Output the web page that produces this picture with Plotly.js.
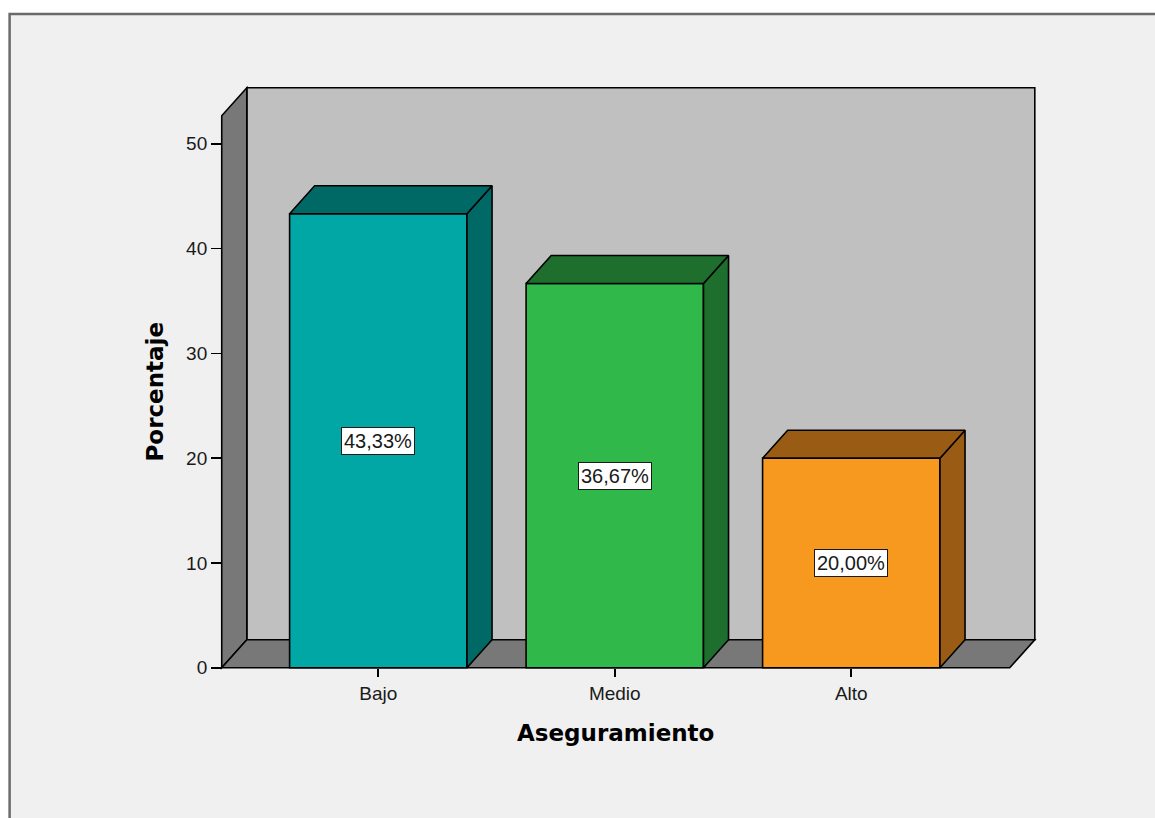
<!DOCTYPE html>
<html>
<head>
<meta charset="utf-8">
<script src="https://cdn.plot.ly/plotly-3.0.1.min.js"></script>
<style>
  html, body { margin: 0; padding: 0; background: #ffffff; }
  #chart { width: 1155px; height: 818px; }
</style>
</head>
<body>
<div id="chart"></div>
<script>
// Aseguramiento: percentage of respondents per level
const categories = ['Bajo', 'Medio', 'Alto'];
const percentages = [43.33, 36.67, 20.00];
const frontColors = ['#00a7a4', '#31b84b', '#f7991f'];
const shadeColors = ['#006865', '#1e6e2e', '#9a5c14'];
const yTicks = [0, 10, 20, 30, 40, 50];
const xTitle = 'Aseguramiento';
const yTitle = 'Porcentaje';

// 3D box geometry in axis units
const barWidth = 0.75;
const depthX = 0.106;     // horizontal depth offset (x units)
const depthY = 2.67;      // vertical depth offset (y units)
const wallLeft = -0.662;
const wallRight = 2.670;
const wallTop = 52.67;

const outline = { color: '#000000', width: 1.6 };
const xPos = categories.map((c, i) => i);

const traces = [];

// front faces of the bars
traces.push({
  type: 'bar',
  x: xPos,
  y: percentages,
  width: barWidth,
  marker: { color: frontColors, line: outline },
  hoverinfo: 'skip'
});

// top and side faces of each bar
percentages.forEach((v, i) => {
  const l = xPos[i] - barWidth / 2;
  const r = xPos[i] + barWidth / 2;
  traces.push({
    type: 'scatter', mode: 'lines', fill: 'toself',
    x: [r, r, r + depthX, r + depthX, r],
    y: [0, v, v + depthY, depthY, 0],
    fillcolor: shadeColors[i], line: outline, hoverinfo: 'skip'
  });
  traces.push({
    type: 'scatter', mode: 'lines', fill: 'toself',
    x: [l, r, r + depthX, l + depthX, l],
    y: [v, v, v + depthY, v + depthY, v],
    fillcolor: shadeColors[i], line: outline, hoverinfo: 'skip'
  });
});

// chart frame, back wall, side wall and floor
const shapes = [
  {
    type: 'rect', xref: 'paper', yref: 'paper', layer: 'below',
    x0: -0.252, x1: 1.3, y0: -0.4, y1: 1.1169,
    fillcolor: '#f0f0f0', line: { color: '#6a6a6a', width: 2.5 }
  },
  {
    type: 'rect', xref: 'x', yref: 'y', layer: 'below',
    x0: wallLeft + depthX, x1: wallRight + depthX, y0: depthY, y1: wallTop + depthY,
    fillcolor: '#c0c0c0', line: outline
  },
  {
    type: 'path', xref: 'x', yref: 'y', layer: 'below',
    path: `M ${wallLeft},0 L ${wallLeft},${wallTop} L ${wallLeft + depthX},${wallTop + depthY} L ${wallLeft + depthX},${depthY} Z`,
    fillcolor: '#787878', line: outline
  },
  {
    type: 'path', xref: 'x', yref: 'y', layer: 'below',
    path: `M ${wallLeft},0 L ${wallRight},0 L ${wallRight + depthX},${depthY} L ${wallLeft + depthX},${depthY} Z`,
    fillcolor: '#787878', line: outline
  }
];

const tickFont = { family: 'Liberation Sans, Arial, sans-serif', size: 19, color: '#1a1a1a' };
const labelFont = { family: 'Liberation Sans, Arial, sans-serif', size: 20, color: '#1a1a1a' };
const titleFont = { family: 'DejaVu Sans, Verdana, sans-serif', size: 23, color: '#000000', weight: 'bold' };

// value labels in the middle of each bar
const annotations = percentages.map((v, i) => ({
  x: xPos[i], y: v / 2, xref: 'x', yref: 'y',
  text: v.toFixed(2).replace('.', ',') + '%',
  showarrow: false,
  font: labelFont,
  bgcolor: '#ffffff', bordercolor: '#1a1a1a', borderwidth: 1, borderpad: 2
}));

// axis titles, centred on the front plane of the box
annotations.push({
  x: (wallLeft + wallRight) / 2, y: 0, xref: 'x', yref: 'y',
  yanchor: 'middle', yshift: -65,
  text: xTitle, showarrow: false, font: titleFont
});
annotations.push({
  x: wallLeft, y: wallTop / 2, xref: 'x', yref: 'y',
  xanchor: 'center', xshift: -67, textangle: -90,
  text: yTitle, showarrow: false, font: titleFont
});

const layout = {
  width: 1155,
  height: 818,
  margin: { l: 217, r: 115, t: 83, b: 145 },
  paper_bgcolor: '#ffffff',
  plot_bgcolor: 'rgba(0,0,0,0)',
  showlegend: false,
  hovermode: false,
  bargap: 0,
  xaxis: {
    range: [-0.682, 2.798],
    anchor: 'free', position: 0.0085,
    tickvals: xPos, ticktext: categories,
    ticks: 'outside', ticklen: 8, tickwidth: 1.6, tickcolor: '#000000',
    showgrid: false, zeroline: false, showline: false,
    tickfont: tickFont
  },
  yaxis: {
    range: [-0.5, 55.8],
    anchor: 'free', position: 0.0061,
    tickvals: yTicks,
    ticks: 'outside', ticklen: 11, tickwidth: 1.6, tickcolor: '#000000',
    showgrid: false, zeroline: false, showline: false,
    tickfont: tickFont
  },
  shapes: shapes,
  annotations: annotations
};

Plotly.newPlot('chart', traces, layout, { displayModeBar: false, staticPlot: true });
</script>
</body>
</html>
